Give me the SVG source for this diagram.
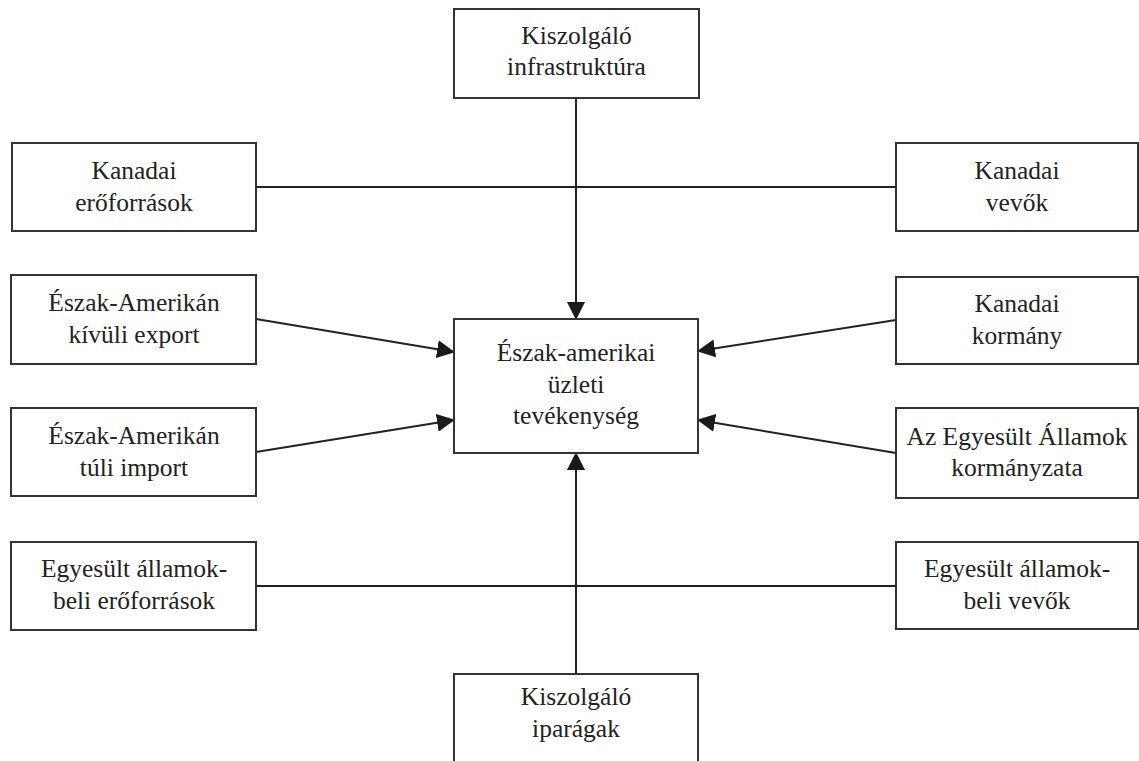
<svg xmlns="http://www.w3.org/2000/svg" width="1139" height="761" viewBox="0 0 1139 761">
<style>
.box{fill:#fff;stroke:#333;stroke-width:2}
.t{font-family:"Liberation Serif","Times New Roman",serif;font-size:25.5px;fill:#222;text-anchor:middle}
.c{stroke:#222;stroke-width:2;fill:none}
</style>
<defs>
<marker id="ah" markerUnits="userSpaceOnUse" markerWidth="18" markerHeight="18" viewBox="0 0 18 18" refX="17" refY="9" orient="auto">
<path d="M0,0 L18,9 L0,18 Z" fill="#1a1a1a"/>
</marker>
</defs>
<rect width="1139" height="761" fill="#fff"/>
<g id="connectors">
<line class="c" x1="256" y1="187" x2="896" y2="187"/>
<line class="c" x1="256" y1="586" x2="896" y2="586"/>
<line class="c" x1="576" y1="98" x2="576" y2="319" marker-end="url(#ah)"/>
<line class="c" x1="576" y1="674" x2="576" y2="453" marker-end="url(#ah)"/>
<line class="c" x1="256" y1="319" x2="454" y2="352" marker-end="url(#ah)"/>
<line class="c" x1="256" y1="452" x2="454" y2="420" marker-end="url(#ah)"/>
<line class="c" x1="896" y1="320" x2="698" y2="351" marker-end="url(#ah)"/>
<line class="c" x1="896" y1="453" x2="698" y2="420" marker-end="url(#ah)"/>
</g>
<g id="kiszolgalo-infra">
<rect class="box" x="454" y="9" width="245" height="89"/>
<text class="t" x="576.5" y="44">Kiszolgáló</text>
<text class="t" x="576.5" y="75">infrastruktúra</text>
</g>
<g id="kanadai-eroforrasok">
<rect class="box" x="12" y="143" width="244" height="88"/>
<text class="t" x="134" y="179">Kanadai</text>
<text class="t" x="134" y="211">erőforrások</text>
</g>
<g id="kanadai-vevok">
<rect class="box" x="896" y="143" width="242" height="88"/>
<text class="t" x="1017" y="179">Kanadai</text>
<text class="t" x="1017" y="211">vevők</text>
</g>
<g id="export">
<rect class="box" x="11" y="275" width="245" height="89"/>
<text class="t" x="134" y="311">Észak-Amerikán</text>
<text class="t" x="134" y="343">kívüli export</text>
</g>
<g id="import">
<rect class="box" x="11" y="408" width="245" height="88"/>
<text class="t" x="134" y="444">Észak-Amerikán</text>
<text class="t" x="134" y="476">túli import</text>
</g>
<g id="kanadai-kormany">
<rect class="box" x="896" y="277" width="242" height="87"/>
<text class="t" x="1017" y="312">Kanadai</text>
<text class="t" x="1017" y="344">kormány</text>
</g>
<g id="us-kormanyzat">
<rect class="box" x="896" y="408" width="242" height="90"/>
<text class="t" x="1017" y="445">Az Egyesült Államok</text>
<text class="t" x="1017" y="476">kormányzata</text>
</g>
<g id="center">
<rect class="box" x="454" y="319" width="244" height="134"/>
<text class="t" x="576" y="361">Észak-amerikai</text>
<text class="t" x="576" y="393">üzleti</text>
<text class="t" x="576" y="424">tevékenység</text>
</g>
<g id="us-eroforrasok">
<rect class="box" x="11" y="542" width="245" height="88"/>
<text class="t" x="134" y="577">Egyesült államok-</text>
<text class="t" x="134" y="609">beli erőforrások</text>
</g>
<g id="us-vevok">
<rect class="box" x="896" y="542" width="242" height="87"/>
<text class="t" x="1017" y="577">Egyesült államok-</text>
<text class="t" x="1017" y="609">beli vevők</text>
</g>
<g id="kiszolgalo-iparagak">
<rect class="box" x="454" y="674" width="244" height="92"/>
<text class="t" x="576" y="705">Kiszolgáló</text>
<text class="t" x="576" y="737">iparágak</text>
</g>
</svg>
